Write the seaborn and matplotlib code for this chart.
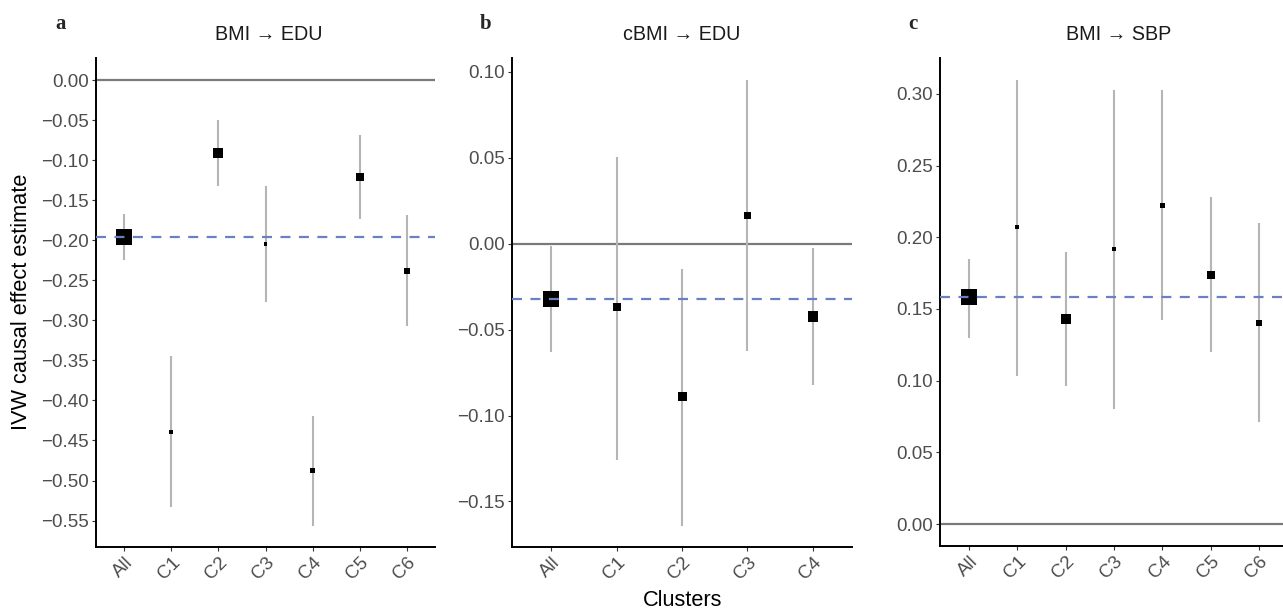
import matplotlib
matplotlib.use("Agg")
import matplotlib.pyplot as plt
import seaborn as sns
import pandas as pd

# cluster labels
clusters_6 = ["All", "C1", "C2", "C3", "C4", "C5", "C6"]
clusters_4 = ["All", "C1", "C2", "C3", "C4"]

# a: BMI -> EDU
est_a = [-0.196, -0.439, -0.091, -0.205, -0.488, -0.121, -0.238]
lo_a = [-0.225, -0.533, -0.132, -0.277, -0.557, -0.174, -0.307]
hi_a = [-0.167, -0.345, -0.050, -0.132, -0.420, -0.069, -0.169]
wt_a = [16, 4, 10, 3.7, 5, 8, 6]
ivw_a = -0.196

# b: cBMI -> EDU
est_b = [-0.032, -0.037, -0.089, 0.0165, -0.0424]
lo_b = [-0.063, -0.126, -0.164, -0.0624, -0.0823]
hi_b = [-0.0013, 0.0504, -0.0145, 0.0952, -0.0023]
wt_b = [16, 8, 9, 7, 10.5]
ivw_b = -0.032

# c: BMI -> SBP
est_c = [0.158, 0.207, 0.143, 0.192, 0.222, 0.174, 0.140]
lo_c = [0.130, 0.103, 0.096, 0.080, 0.142, 0.120, 0.071]
hi_c = [0.185, 0.310, 0.1895, 0.303, 0.3026, 0.228, 0.210]
wt_c = [16, 3.7, 10, 4, 5, 8, 6]
ivw_c = 0.158

panels = [
    ("a", "BMI \u2192 EDU", clusters_6, est_a, lo_a, hi_a, wt_a, ivw_a),
    ("b", "cBMI \u2192 EDU", clusters_4, est_b, lo_b, hi_b, wt_b, ivw_b),
    ("c", "BMI \u2192 SBP", clusters_6, est_c, lo_c, hi_c, wt_c, ivw_c),
]

sns.set_theme(style="white")
plt.rcParams["font.family"] = ["Liberation Sans", "DejaVu Sans"]

W, H = 1283, 610
fig = plt.figure(figsize=(W / 100, H / 100), dpi=100)

# axes boxes in pixels: left, right, top, bottom
boxes = [(96, 435, 58, 547), (512, 852, 58, 547), (940, 1288, 58, 546)]
ylims = [(-0.583, 0.0275), (-0.1765, 0.108), (-0.0153, 0.325)]
yticks = [
    [0.0, -0.05, -0.10, -0.15, -0.20, -0.25, -0.30, -0.35, -0.40, -0.45, -0.50, -0.55],
    [0.10, 0.05, 0.0, -0.05, -0.10, -0.15],
    [0.30, 0.25, 0.20, 0.15, 0.10, 0.05, 0.0],
]
letter_x = [61, 486, 913]
title_x = [269, 682, 1119]

for i, (letter, title, cats, est, lo, hi, wt, ivw) in enumerate(panels):
    l, r, t, b = boxes[i]
    ax = fig.add_axes([l / W, (H - b) / H, (r - l) / W, (b - t) / H])
    df = pd.DataFrame({"cluster": cats, "est": est, "lo": lo, "hi": hi, "wt": wt})

    ax.axhline(0, color="#7a7a7a", lw=1.6, zorder=1)
    ax.vlines(df["cluster"], df["lo"], df["hi"], color="#b5b5b5", lw=1.5, zorder=2)
    size_map = {w: (0.72 * w) ** 2 for w in wt}
    sns.scatterplot(data=df, x="cluster", y="est", size="wt", sizes=size_map,
                    marker="s", color="black", linewidth=0, legend=False, ax=ax, zorder=3)
    ax.axhline(ivw, color="#6b80c2", lw=1.6, ls=(0, (4.5, 3.8)), zorder=4)

    ax.set_xlim(-0.6, len(cats) - 0.4)
    ax.set_ylim(*ylims[i])
    ax.set_yticks(yticks[i])
    ax.set_yticklabels([f"{v:.2f}".replace("-", "\u2212") for v in yticks[i]])

    sns.despine(ax=ax)
    for side in ["left", "bottom"]:
        ax.spines[side].set_color("black")
        ax.spines[side].set_linewidth(1.4)
    ax.tick_params(axis="both", which="major", length=3, width=0.8, color="#333333",
                   labelsize=13.5, labelcolor="#4d4d4d", pad=2, left=True, bottom=True)
    for lab in ax.get_xticklabels():
        lab.set_rotation(45)
        lab.set_ha("right")
        lab.set_rotation_mode("anchor")
    ax.set_xlabel("")
    ax.set_ylabel("")

    fig.text(title_x[i] / W, 1 - 35 / H, title,
             ha="center", va="center", fontsize=14.2, color="#1a1a1a")
    fig.text(letter_x[i] / W, 1 - 24 / H, letter, ha="center", va="center",
             fontsize=15, fontweight="bold", family="Liberation Serif")

fig.text(22 / W, 1 - 302 / H, "IVW causal effect estimate", rotation=90,
         ha="center", va="center", fontsize=15.7, color="black")
fig.text(683 / W, 1 - 601 / H, "Clusters", ha="center", va="center",
         fontsize=15.7, color="black")

fig.savefig("out.png", dpi=100)
